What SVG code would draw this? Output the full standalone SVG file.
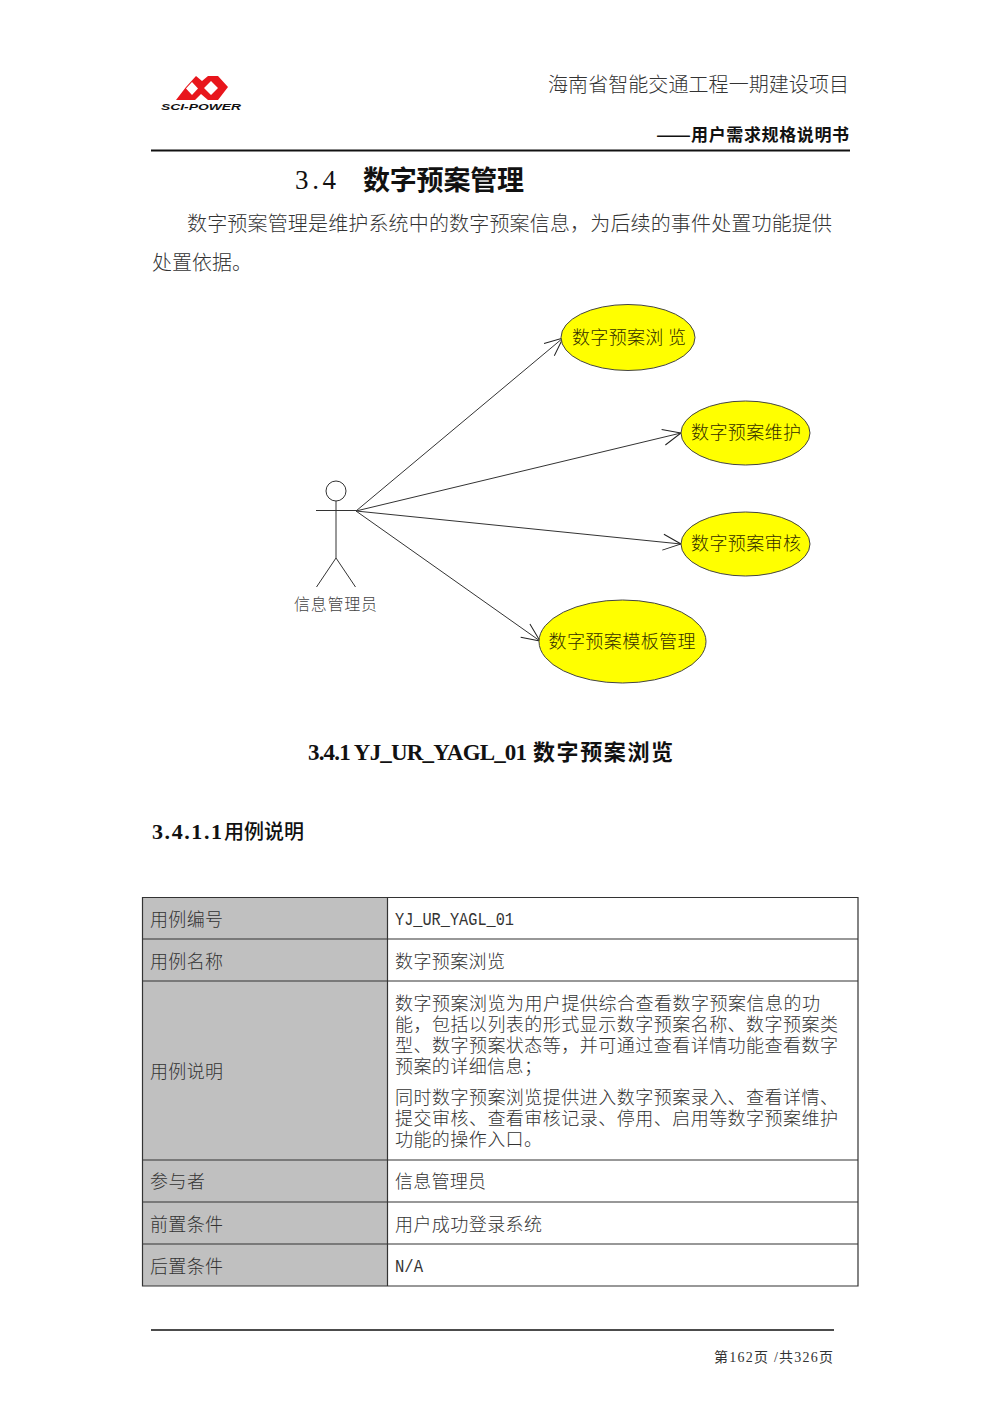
<svg xmlns="http://www.w3.org/2000/svg" width="1000" height="1415" viewBox="0 0 1000 1415">
<style>
text{font-family:"Liberation Serif","Noto Sans CJK SC",serif;fill:#222;font-weight:300}
.cjk{font-family:"Noto Sans CJK SC",sans-serif}
.b{font-weight:700;fill:#111}
.hdr{font-size:20px;fill:#333}
.body{font-size:20px;fill:#333}
.cell{font-size:18px;fill:#333}
.mono{font-family:"Liberation Mono",monospace;font-size:18px;fill:#333}
.uc{font-size:18px;fill:#332e00;text-anchor:middle}
.use{fill:#ff0;stroke:#444;stroke-width:1}
.rule{stroke:#111;fill:none}
.lane{stroke:#333;stroke-width:1;fill:none}
.lab{fill:#c0c0c0}
</style>
<defs>
<marker id="arrow" viewBox="0 0 20 20" refX="19" refY="10" markerWidth="20" markerHeight="20" markerUnits="userSpaceOnUse" orient="auto">
<path d="M1 2L19 10L1 18" fill="none" stroke="#222" stroke-width="1"/>
</marker>
</defs>
<rect width="1000" height="1415" fill="#fff"/>
<g id="logo">
<path d="M176 100L186 87L196 76L202 81L208 76L218 76L228 87L218 100L208 100L201 94L195 100Z" fill="#e8161c"/>
<path d="M192 82L198 88.500L192 95L186 88.500ZM211 81L218 88L211 95L204 88Z" fill="#fff"/>
<text x="161" y="110" font-size="9" font-style="italic" textLength="80" lengthAdjust="spacingAndGlyphs" style="font-family:'Liberation Sans',sans-serif;font-weight:700;fill:#111">SCI-POWER</text>
</g>
<g id="header">
<text class="hdr cjk" x="548" y="92" textLength="301">海南省智能交通工程一期建设项目</text>
<text class="cjk b" x="656" y="141" font-size="17" textLength="35" lengthAdjust="spacingAndGlyphs">——</text>
<text class="cjk b" x="691" y="141" font-size="17" textLength="158">用户需求规格说明书</text>
<path class="rule" stroke-width="2" d="M151 150.500H850"/>
</g>
<g id="intro">
<text x="295" y="189" font-size="27" style="font-weight:400;fill:#111" textLength="41">3.4</text>
<text class="cjk b" x="363" y="190" font-size="27" textLength="161">数字预案管理</text>
<text class="body cjk" x="187" y="231" textLength="645">数字预案管理是维护系统中的数字预案信息，为后续的事件处置功能提供</text>
<text class="body cjk" x="152" y="270" textLength="100">处置依据。</text>
</g>
<g id="connectors">
<path class="lane" marker-end="url(#arrow)" d="M356 511L563 338"/>
<path class="lane" marker-end="url(#arrow)" d="M356 511L681 433"/>
<path class="lane" marker-end="url(#arrow)" d="M356 511L681 544"/>
<path class="lane" marker-end="url(#arrow)" d="M356 511L540 641"/>
</g>
<g id="actor">
<circle class="lane" cx="336" cy="491" r="10"/>
<path class="lane" d="M316 510.500H356M336 501V558M336 558L316.500 587M336 558L355.500 587"/>
<text class="cjk" x="294" y="610" font-size="16" textLength="83" style="fill:#444">信息管理员</text>
</g>
<g id="uc1"><ellipse class="use" cx="628" cy="337.500" rx="67" ry="33"/><text class="uc cjk" x="629" y="344" textLength="114">数字预案浏 览</text></g>
<g id="uc2"><ellipse class="use" cx="745.500" cy="433" rx="64.500" ry="32"/><text class="uc cjk" x="746" y="439" textLength="110">数字预案维护</text></g>
<g id="uc3"><ellipse class="use" cx="745.500" cy="544" rx="64.500" ry="32"/><text class="uc cjk" x="746" y="550" textLength="110">数字预案审核</text></g>
<g id="uc4"><ellipse class="use" cx="622.500" cy="641.500" rx="83.500" ry="41.500"/><text class="uc cjk" x="622" y="648" textLength="147">数字预案模板管理</text></g>
<g id="headings">
<text class="b" x="308" y="760" font-size="23" style="font-weight:700" textLength="219">3.4.1 YJ_UR_YAGL_01</text>
<text class="cjk b" x="533" y="760" font-size="22" textLength="140">数字预案浏览</text>
<text class="b" x="152" y="839" font-size="22" style="font-weight:700" textLength="70">3.4.1.1</text>
<text class="cjk" x="224" y="839" font-size="20" textLength="80" style="font-weight:500;fill:#111">用例说明</text>
</g>
<g id="table">
<rect class="lab" x="142.500" y="897.500" width="245" height="388.500"/>
<path d="M142.500 897.500H858V1286H142.500ZM387.500 897.500V1286M142.500 939H858M142.500 981H858M142.500 1160H858M142.500 1202H858M142.500 1244H858" fill="none" stroke="#333" stroke-width="1.200"/>
<text class="cell cjk" x="150" y="926" textLength="73">用例编号</text>
<text class="cell cjk" x="150" y="968" textLength="73">用例名称</text>
<text class="cell cjk" x="150" y="1078" textLength="73">用例说明</text>
<text class="cell cjk" x="150" y="1188" textLength="55">参与者</text>
<text class="cell cjk" x="150" y="1231" textLength="73">前置条件</text>
<text class="cell cjk" x="150" y="1273" textLength="73">后置条件</text>
<text class="mono" x="395" y="925" textLength="119" lengthAdjust="spacingAndGlyphs">YJ_UR_YAGL_01</text>
<text class="cell cjk" x="395" y="968" textLength="110">数字预案浏览</text>
<text class="cell cjk"><tspan x="395" y="1010" textLength="425">数字预案浏览为用户提供综合查看数字预案信息的功</tspan><tspan x="395" y="1031" textLength="443">能，包括以列表的形式显示数字预案名称、数字预案类</tspan><tspan x="395" y="1052" textLength="443">型、数字预案状态等，并可通过查看详情功能查看数字</tspan><tspan x="395" y="1073" textLength="147">预案的详细信息；</tspan></text>
<text class="cell cjk"><tspan x="395" y="1104" textLength="443">同时数字预案浏览提供进入数字预案录入、查看详情、</tspan><tspan x="395" y="1125" textLength="443">提交审核、查看审核记录、停用、启用等数字预案维护</tspan><tspan x="395" y="1146" textLength="147">功能的操作入口。</tspan></text>
<text class="cell cjk" x="395" y="1188" textLength="91">信息管理员</text>
<text class="cell cjk" x="395" y="1231" textLength="147">用户成功登录系统</text>
<text class="mono" x="395" y="1272" textLength="28" lengthAdjust="spacingAndGlyphs">N/A</text>
</g>
<g id="footer">
<path class="rule" stroke-width="1.500" d="M151 1330H834"/>
<text x="714" y="1362" font-size="14" textLength="119" style="font-weight:400;fill:#333">第162页 /共326页</text>
</g>
</svg>
